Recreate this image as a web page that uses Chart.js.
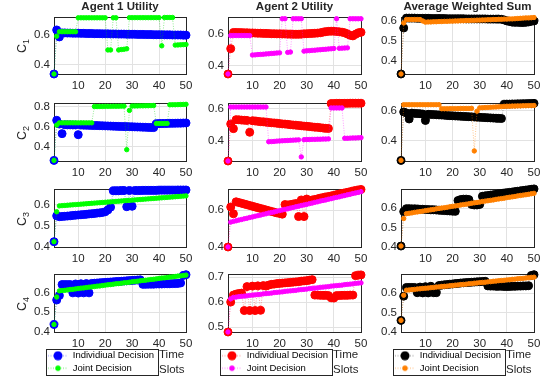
<!DOCTYPE html>
<html lang="en">
<head>
<meta charset="UTF-8">
<title>Utility per Channel</title>
<script src="https://cdn.jsdelivr.net/npm/chart.js"></script>
<style>
    body { margin: 0; width: 545px; height: 379px; position: relative; overflow: hidden; background: #fff;
           font-family: "Liberation Sans", Arial, sans-serif; color: #262626; }
    canvas { position: absolute; }
    .ttl { position: absolute; top: 0; font-weight: bold; font-size: 11.5px; line-height: 12px; text-align: center; }
    .ylab { position: absolute; transform: translate(-50%, -50%) rotate(-90deg); font-size: 12.5px; line-height: 1; white-space: nowrap; }
    .ylab sub { font-size: 0.72em; vertical-align: -0.35em; line-height: 0; }
    .xlab { position: absolute; font-size: 11.5px; line-height: 15px; }
</style>
</head>
<body>
<script>
// x axis: time slots
const slots = Array.from({ length: 50 }, (_, i) => i + 1);
const xTickValues = [10, 20, 30, 40, 50];
const columnTitles = ['Agent 1 Utility', 'Agent 2 Utility', 'Average Weighted Sum'];
const channelNames = ['1', '2', '3', '4'];
const legendNames = ['Individiual Decision', 'Joint Decision'];

// C1
const a1c1Ind = [0.335, 0.632, 0.585, 0.612, 0.612, 0.611, 0.611, 0.61, 0.61, 0.61, 0.609, 0.609, 0.608, 0.608, 0.608, 0.607, 0.607, 0.607, 0.606, 0.606, 0.606, 0.605, 0.605, 0.605, 0.604, 0.604, 0.604, 0.603, 0.603, 0.603, 0.603, 0.602, 0.602, 0.602, 0.601, 0.601, 0.601, 0.6, 0.6, 0.6, 0.6, 0.599, 0.599, 0.599, 0.598, 0.598, 0.598, 0.598, 0.597, 0.597];
const a1c1Joint = [0.335, 0.59, 0.62, 0.62, 0.62, 0.62, 0.62, 0.62, 0.62, 0.714, 0.714, 0.714, 0.714, 0.714, 0.714, 0.714, 0.714, 0.714, 0.714, 0.714, 0.497, 0.497, 0.714, 0.714, 0.497, 0.5, 0.502, 0.505, 0.715, 0.715, 0.715, 0.715, 0.715, 0.715, 0.715, 0.715, 0.715, 0.715, 0.715, 0.715, 0.525, 0.716, 0.716, 0.716, 0.716, 0.53, 0.531, 0.532, 0.533, 0.534];
const a2c1Ind = [0.345, 0.508, 0.612, 0.612, 0.611, 0.611, 0.61, 0.61, 0.609, 0.609, 0.608, 0.607, 0.607, 0.606, 0.606, 0.605, 0.604, 0.604, 0.603, 0.603, 0.602, 0.602, 0.601, 0.601, 0.6, 0.6, 0.6, 0.601, 0.603, 0.604, 0.605, 0.606, 0.607, 0.608, 0.61, 0.614, 0.617, 0.619, 0.62, 0.62, 0.618, 0.616, 0.614, 0.61, 0.602, 0.594, 0.59, 0.6, 0.61, 0.613];
const a2c1Joint = [0.345, 0.592, 0.592, 0.592, 0.592, 0.592, 0.592, 0.592, 0.592, 0.467, 0.468, 0.47, 0.471, 0.472, 0.474, 0.475, 0.477, 0.478, 0.48, 0.481, 0.70, 0.70, 0.484, 0.486, 0.70, 0.70, 0.70, 0.70, 0.492, 0.494, 0.495, 0.497, 0.498, 0.5, 0.501, 0.503, 0.504, 0.506, 0.507, 0.509, 0.70, 0.51, 0.511, 0.512, 0.513, 0.70, 0.70, 0.70, 0.70, 0.70];
const avgC1Ind = [0.337, 0.565, 0.614, 0.614, 0.614, 0.614, 0.613, 0.613, 0.613, 0.613, 0.613, 0.612, 0.612, 0.612, 0.612, 0.612, 0.612, 0.611, 0.611, 0.611, 0.611, 0.611, 0.611, 0.611, 0.61, 0.61, 0.61, 0.61, 0.61, 0.61, 0.61, 0.61, 0.609, 0.609, 0.609, 0.609, 0.609, 0.608, 0.605, 0.6, 0.597, 0.594, 0.593, 0.593, 0.592, 0.592, 0.593, 0.595, 0.598, 0.6];
const avgC1Joint = [0.337, 0.59, 0.607, 0.607, 0.607, 0.607, 0.607, 0.607, 0.6, 0.594, 0.595, 0.595, 0.596, 0.596, 0.597, 0.597, 0.598, 0.598, 0.599, 0.599, 0.6, 0.6, 0.601, 0.601, 0.602, 0.602, 0.603, 0.603, 0.604, 0.604, 0.605, 0.605, 0.606, 0.606, 0.607, 0.607, 0.608, 0.608, 0.609, 0.609, 0.61, 0.61, 0.611, 0.612, 0.613, 0.614, 0.615, 0.615, 0.616, 0.617];

// C2
const a1c2Ind = [0.266, 0.662, 0.625, 0.53, 0.618, 0.617, 0.617, 0.616, 0.616, 0.52, 0.615, 0.614, 0.613, 0.612, 0.611, 0.61, 0.61, 0.609, 0.608, 0.607, 0.606, 0.605, 0.604, 0.603, 0.602, 0.601, 0.6, 0.6, 0.599, 0.598, 0.597, 0.596, 0.595, 0.594, 0.593, 0.592, 0.591, 0.59, 0.628, 0.629, 0.63, 0.63, 0.631, 0.632, 0.632, 0.633, 0.634, 0.634, 0.635, 0.636];
const a1c2Joint = [0.266, 0.615, 0.637, 0.637, 0.637, 0.637, 0.637, 0.637, 0.637, 0.637, 0.637, 0.637, 0.637, 0.637, 0.637, 0.798, 0.798, 0.799, 0.799, 0.8, 0.8, 0.8, 0.801, 0.801, 0.801, 0.802, 0.802, 0.372, 0.76, 0.803, 0.804, 0.804, 0.805, 0.805, 0.806, 0.806, 0.807, 0.808, 0.631, 0.631, 0.631, 0.631, 0.631, 0.815, 0.816, 0.816, 0.817, 0.818, 0.819, 0.82];
const a2c2Ind = [0.27, 0.505, 0.475, 0.532, 0.531, 0.529, 0.528, 0.527, 0.452, 0.525, 0.523, 0.521, 0.519, 0.518, 0.516, 0.514, 0.512, 0.511, 0.509, 0.507, 0.505, 0.504, 0.502, 0.5, 0.498, 0.497, 0.495, 0.493, 0.491, 0.49, 0.488, 0.486, 0.484, 0.483, 0.481, 0.479, 0.477, 0.476, 0.634, 0.634, 0.635, 0.635, 0.635, 0.635, 0.635, 0.636, 0.636, 0.636, 0.636, 0.636];
const a2c2Joint = [0.27, 0.612, 0.612, 0.612, 0.612, 0.612, 0.612, 0.612, 0.612, 0.612, 0.612, 0.612, 0.612, 0.612, 0.612, 0.392, 0.393, 0.394, 0.396, 0.397, 0.398, 0.399, 0.4, 0.401, 0.402, 0.403, 0.404, 0.296, 0.405, 0.406, 0.406, 0.407, 0.407, 0.408, 0.408, 0.409, 0.409, 0.41, 0.606, 0.606, 0.606, 0.606, 0.606, 0.414, 0.414, 0.415, 0.416, 0.416, 0.417, 0.418];
const avgC2Ind = [0.267, 0.59, 0.583, 0.543, 0.582, 0.58, 0.579, 0.578, 0.576, 0.533, 0.574, 0.573, 0.572, 0.571, 0.57, 0.569, 0.568, 0.566, 0.565, 0.564, 0.563, 0.562, 0.561, 0.56, 0.559, 0.558, 0.557, 0.556, 0.555, 0.554, 0.553, 0.552, 0.551, 0.55, 0.549, 0.548, 0.547, 0.546, 0.641, 0.642, 0.642, 0.643, 0.643, 0.644, 0.644, 0.645, 0.645, 0.646, 0.646, 0.647];
const avgC2Joint = [0.267, 0.638, 0.638, 0.638, 0.638, 0.638, 0.638, 0.638, 0.638, 0.638, 0.638, 0.638, 0.638, 0.638, 0.638, 0.611, 0.611, 0.611, 0.612, 0.612, 0.612, 0.612, 0.613, 0.613, 0.613, 0.613, 0.614, 0.33, 0.595, 0.617, 0.618, 0.619, 0.62, 0.621, 0.622, 0.623, 0.624, 0.625, 0.627, 0.628, 0.628, 0.629, 0.629, 0.63, 0.63, 0.631, 0.631, 0.632, 0.632, 0.633];

// C3
const a1c3Ind = [0.425, 0.547, 0.543, 0.544, 0.545, 0.546, 0.547, 0.549, 0.55, 0.551, 0.552, 0.553, 0.554, 0.556, 0.557, 0.558, 0.56, 0.561, 0.563, 0.566, 0.575, 0.588, 0.665, 0.665, 0.665, 0.666, 0.666, 0.59, 0.666, 0.592, 0.666, 0.666, 0.666, 0.667, 0.667, 0.667, 0.667, 0.667, 0.667, 0.668, 0.668, 0.668, 0.668, 0.668, 0.668, 0.668, 0.669, 0.669, 0.669, 0.669];
const a1c3Joint = [0.425, 0.566, 0.594, 0.595, 0.596, 0.597, 0.598, 0.599, 0.6, 0.601, 0.602, 0.603, 0.604, 0.605, 0.606, 0.607, 0.608, 0.609, 0.61, 0.611, 0.612, 0.613, 0.614, 0.615, 0.616, 0.617, 0.618, 0.619, 0.62, 0.621, 0.622, 0.623, 0.624, 0.625, 0.626, 0.627, 0.628, 0.629, 0.63, 0.631, 0.632, 0.633, 0.634, 0.635, 0.636, 0.637, 0.638, 0.639, 0.64, 0.641];
const a2c3Ind = [0.4, 0.617, 0.58, 0.645, 0.641, 0.637, 0.633, 0.629, 0.625, 0.621, 0.617, 0.613, 0.609, 0.605, 0.601, 0.597, 0.593, 0.589, 0.585, 0.582, 0.578, 0.63, 0.628, 0.63, 0.633, 0.636, 0.565, 0.655, 0.565, 0.66, 0.652, 0.655, 0.658, 0.661, 0.665, 0.668, 0.671, 0.674, 0.677, 0.68, 0.684, 0.687, 0.69, 0.693, 0.696, 0.699, 0.703, 0.706, 0.709, 0.712];
const a2c3Joint = [0.4, 0.535, 0.539, 0.542, 0.546, 0.549, 0.553, 0.556, 0.56, 0.563, 0.567, 0.57, 0.573, 0.577, 0.58, 0.584, 0.587, 0.59, 0.594, 0.597, 0.601, 0.604, 0.607, 0.611, 0.614, 0.618, 0.621, 0.625, 0.628, 0.631, 0.635, 0.638, 0.642, 0.645, 0.649, 0.652, 0.655, 0.659, 0.662, 0.666, 0.669, 0.672, 0.676, 0.679, 0.683, 0.686, 0.69, 0.693, 0.696, 0.70];
const avgC3Ind = [0.405, 0.583, 0.598, 0.598, 0.597, 0.597, 0.596, 0.595, 0.595, 0.594, 0.593, 0.592, 0.592, 0.591, 0.59, 0.589, 0.588, 0.587, 0.586, 0.585, 0.584, 0.64, 0.645, 0.647, 0.647, 0.645, 0.62, 0.617, 0.617, 0.62, 0.662, 0.664, 0.666, 0.668, 0.67, 0.672, 0.674, 0.676, 0.678, 0.68, 0.682, 0.684, 0.686, 0.688, 0.69, 0.692, 0.694, 0.696, 0.698, 0.70];
const avgC3Joint = [0.405, 0.547, 0.572, 0.574, 0.576, 0.579, 0.581, 0.583, 0.585, 0.588, 0.59, 0.592, 0.594, 0.597, 0.599, 0.601, 0.603, 0.605, 0.608, 0.61, 0.612, 0.614, 0.617, 0.619, 0.621, 0.623, 0.626, 0.628, 0.63, 0.632, 0.635, 0.637, 0.639, 0.641, 0.643, 0.646, 0.648, 0.65, 0.652, 0.655, 0.657, 0.659, 0.661, 0.664, 0.666, 0.668, 0.67, 0.672, 0.675, 0.677];

// C4
const a1c4Ind = [0.438, 0.562, 0.585, 0.64, 0.64, 0.64, 0.64, 0.598, 0.643, 0.597, 0.644, 0.598, 0.645, 0.598, 0.646, 0.647, 0.648, 0.649, 0.65, 0.651, 0.652, 0.653, 0.654, 0.655, 0.656, 0.657, 0.658, 0.659, 0.66, 0.661, 0.662, 0.663, 0.664, 0.641, 0.641, 0.642, 0.642, 0.642, 0.643, 0.643, 0.643, 0.644, 0.644, 0.644, 0.645, 0.645, 0.646, 0.648, 0.686, 0.69];
const a1c4Joint = [0.438, 0.577, 0.608, 0.61, 0.611, 0.613, 0.615, 0.616, 0.618, 0.62, 0.622, 0.623, 0.625, 0.627, 0.628, 0.63, 0.632, 0.633, 0.635, 0.637, 0.639, 0.64, 0.642, 0.644, 0.645, 0.647, 0.649, 0.65, 0.652, 0.654, 0.656, 0.657, 0.659, 0.661, 0.662, 0.664, 0.666, 0.667, 0.669, 0.671, 0.673, 0.674, 0.676, 0.678, 0.679, 0.681, 0.683, 0.684, 0.686, 0.688];
const a2c4Ind = [0.48, 0.6, 0.628, 0.632, 0.634, 0.636, 0.566, 0.662, 0.566, 0.664, 0.566, 0.665, 0.567, 0.666, 0.664, 0.668, 0.671, 0.672, 0.674, 0.675, 0.676, 0.677, 0.678, 0.679, 0.68, 0.681, 0.682, 0.684, 0.685, 0.686, 0.688, 0.69, 0.628, 0.628, 0.627, 0.627, 0.627, 0.626, 0.617, 0.616, 0.626, 0.626, 0.627, 0.627, 0.627, 0.628, 0.628, 0.706, 0.708, 0.709];
const a2c4Joint = [0.48, 0.613, 0.619, 0.62, 0.622, 0.623, 0.624, 0.625, 0.627, 0.628, 0.629, 0.63, 0.631, 0.633, 0.634, 0.635, 0.636, 0.638, 0.639, 0.64, 0.641, 0.643, 0.644, 0.645, 0.646, 0.647, 0.649, 0.65, 0.651, 0.652, 0.654, 0.655, 0.656, 0.657, 0.659, 0.66, 0.661, 0.662, 0.664, 0.665, 0.666, 0.667, 0.668, 0.67, 0.671, 0.672, 0.673, 0.675, 0.676, 0.677];
const avgC4Ind = [0.46, 0.585, 0.63, 0.63, 0.63, 0.63, 0.603, 0.632, 0.602, 0.634, 0.602, 0.636, 0.603, 0.603, 0.64, 0.642, 0.644, 0.645, 0.647, 0.648, 0.65, 0.651, 0.653, 0.654, 0.655, 0.656, 0.657, 0.658, 0.659, 0.66, 0.661, 0.662, 0.638, 0.637, 0.637, 0.636, 0.636, 0.636, 0.635, 0.635, 0.635, 0.636, 0.636, 0.637, 0.637, 0.638, 0.638, 0.639, 0.692, 0.696];
const avgC4Joint = [0.46, 0.59, 0.616, 0.617, 0.619, 0.62, 0.622, 0.623, 0.625, 0.626, 0.627, 0.629, 0.63, 0.632, 0.633, 0.635, 0.636, 0.637, 0.639, 0.64, 0.642, 0.643, 0.645, 0.646, 0.647, 0.649, 0.65, 0.652, 0.653, 0.655, 0.656, 0.657, 0.659, 0.66, 0.662, 0.663, 0.665, 0.666, 0.667, 0.669, 0.67, 0.672, 0.673, 0.675, 0.676, 0.677, 0.679, 0.68, 0.682, 0.683];

const panelData = [
    [[a1c1Ind, a1c1Joint], [a2c1Ind, a2c1Joint], [avgC1Ind, avgC1Joint]],
    [[a1c2Ind, a1c2Joint], [a2c2Ind, a2c2Joint], [avgC2Ind, avgC2Joint]],
    [[a1c3Ind, a1c3Joint], [a2c3Ind, a2c3Joint], [avgC3Ind, avgC3Joint]],
    [[a1c4Ind, a1c4Joint], [a2c4Ind, a2c4Joint], [avgC4Ind, avgC4Joint]]
];
const yMin = [[0.335, 0.345, 0.337], [0.26, 0.27, 0.263], [0.4, 0.4, 0.4], [0.4, 0.48, 0.4]];
const yMax = [[0.72, 0.712, 0.62], [0.834, 0.638, 0.65], [0.674, 0.715, 0.70], [0.694, 0.713, 0.70]];
const yTicks = [
    [[0.4, 0.6], [0.4, 0.6], [0.4, 0.5, 0.6]],
    [[0.4, 0.6, 0.8], [0.4, 0.6], [0.4, 0.6]],
    [[0.4, 0.5, 0.6], [0.4, 0.6], [0.4, 0.5, 0.6]],
    [[0.4, 0.5, 0.6], [0.5, 0.6, 0.7], [0.4, 0.5, 0.6]]
];

// layout (pixel positions of the plot boxes)
const colLeft = [54, 228, 401];
const colRight = [186, 361, 534];
const rowTop = [14, 100, 186, 271];
const rowBottom = [74, 161, 247, 332];
const Y_W = 30, PAD_T = 8, PAD_R = 14, X_H = 18, X_H_LAST = 16, LEG_H = 35;

const markerColors = [['#0000ff', '#00ff00'], ['#ff0000', '#ff00ff'], ['#000000', '#ff8000']];
const dotColors = [
    ['rgba(0,0,255,0.45)', 'rgba(0,210,0,0.55)'],
    ['rgba(255,0,0,0.45)', 'rgba(255,0,255,0.5)'],
    ['rgba(0,0,0,0.45)', 'rgba(255,128,0,0.55)']
];
const markerRadius = [4, 2.2];

Chart.defaults.font.family = '"Liberation Sans", Arial, sans-serif';
Chart.defaults.color = '#262626';

function legendIcon(fill, dot, r) {
    const cv = document.createElement('canvas');
    cv.width = 20; cv.height = 10;
    const g = cv.getContext('2d');
    g.strokeStyle = dot; g.lineWidth = 1; g.setLineDash([1, 1.5]);
    g.beginPath(); g.moveTo(0, 5); g.lineTo(20, 5); g.stroke();
    g.setLineDash([]);
    g.fillStyle = fill;
    g.beginPath(); g.arc(10, 5, r, 0, Math.PI * 2); g.fill();
    return cv;
}

// matlab style box around the plot area
const axesBox = {
    id: 'axesBox',
    beforeDatasetsDraw(chart) {
        const { ctx, chartArea: a } = chart;
        ctx.save();
        ctx.strokeStyle = '#262626';
        ctx.lineWidth = 1;
        ctx.strokeRect(Math.round(a.left) + 0.5, Math.round(a.top) + 0.5, Math.round(a.width), Math.round(a.height));
        ctx.restore();
    }
};

// move the legend under the plot and frame it
const legendFrame = {
    id: 'legendFrame',
    afterLayout(chart) {
        const lg = chart.legend;
        if (!lg || !lg.options.display) return;
        const dx = chart.chartArea.left - 9 - lg.left;
        lg.left += dx;
        lg.right += dx;
    },
    afterDraw(chart) {
        const lg = chart.legend;
        if (!lg || !lg.options.display || !lg.legendHitBoxes.length) return;
        let l = Infinity, t = Infinity, r = -Infinity, b = -Infinity;
        lg.legendHitBoxes.forEach(h => {
            l = Math.min(l, h.left); t = Math.min(t, h.top);
            r = Math.max(r, h.left + h.width); b = Math.max(b, h.top + h.height);
        });
        const ctx = chart.ctx;
        ctx.save();
        ctx.strokeStyle = '#262626';
        ctx.lineWidth = 1;
        ctx.strokeRect(Math.round(l - 2) + 0.5, Math.round(t - 2) + 0.5, Math.round(r - l + 6), Math.round(b - t + 4));
        ctx.restore();
    }
};

function addPanel(r, c) {
    const last = r === 3;
    const plotW = colRight[c] - colLeft[c];
    const plotH = rowBottom[r] - rowTop[r];
    const xH = last ? X_H_LAST : X_H;
    const w = Y_W + plotW + PAD_R;
    const h = PAD_T + plotH + xH + (last ? LEG_H : 0);

    const canvas = document.createElement('canvas');
    canvas.width = w; canvas.height = h;
    canvas.style.left = (colLeft[c] - Y_W) + 'px';
    canvas.style.top = (rowTop[r] - PAD_T) + 'px';
    canvas.style.width = w + 'px';
    canvas.style.height = h + 'px';
    document.body.appendChild(canvas);

    const icons = [0, 1].map(k => legendIcon(markerColors[c][k], dotColors[c][k], markerRadius[k] + 0.5));

    const datasets = [0, 1].map(k => ({
        label: legendNames[k],
        data: panelData[r][c][k].map((v, i) => ({ x: slots[i], y: v })),
        order: k === 0 ? 2 : 1,
        borderColor: dotColors[c][k],
        borderWidth: 0.8,
        borderDash: [1, 1.5],
        backgroundColor: markerColors[c][k],
        pointBackgroundColor: markerColors[c][k],
        pointBorderColor: markerColors[c][k],
        pointBorderWidth: 1,
        pointRadius: markerRadius[k],
        pointHoverRadius: markerRadius[k],
        tension: 0,
        clip: false
    }));

    new Chart(canvas.getContext('2d'), {
        type: 'line',
        data: { datasets },
        options: {
            responsive: false,
            animation: false,
            devicePixelRatio: 1,
            events: [],
            layout: { padding: { top: PAD_T, right: PAD_R, left: 0, bottom: 0 } },
            scales: {
                x: {
                    type: 'linear',
                    min: 1,
                    max: 50,
                    afterBuildTicks: s => { s.ticks = xTickValues.map(v => ({ value: v })); },
                    afterFit: s => { s.height = xH; },
                    grid: { color: '#e2e2e2', drawTicks: false },
                    border: { display: false },
                    ticks: { padding: 5, maxRotation: 0, font: { size: 11.5 }, color: '#262626' }
                },
                y: {
                    min: yMin[r][c],
                    max: yMax[r][c],
                    afterBuildTicks: s => { s.ticks = yTicks[r][c].map(v => ({ value: v })); },
                    afterFit: s => { s.width = Y_W; },
                    grid: { color: '#e2e2e2', drawTicks: false },
                    border: { display: false },
                    ticks: { padding: 4, font: { size: 11.5 }, color: '#262626', callback: v => v.toFixed(1) }
                }
            },
            plugins: {
                tooltip: { enabled: false },
                legend: {
                    display: last,
                    position: 'bottom',
                    align: 'start',
                    labels: {
                        usePointStyle: true,
                        pointStyleWidth: 20,
                        padding: 3,
                        color: '#000',
                        font: { size: 9.5 },
                        sort: (a, b) => a.datasetIndex - b.datasetIndex,
                        generateLabels: chart => Chart.defaults.plugins.legend.labels.generateLabels(chart)
                            .map(item => { item.pointStyle = icons[item.datasetIndex]; return item; })
                    }
                }
            }
        },
        plugins: [axesBox, legendFrame]
    });
}

for (let r = 0; r < 4; r++) {
    for (let c = 0; c < 3; c++) addPanel(r, c);
}

// titles, channel labels and the x label
columnTitles.forEach((t, c) => {
    const d = document.createElement('div');
    d.className = 'ttl';
    d.style.left = colLeft[c] + 'px';
    d.style.width = (colRight[c] - colLeft[c]) + 'px';
    d.textContent = t;
    document.body.appendChild(d);
});
channelNames.forEach((n, r) => {
    const d = document.createElement('div');
    d.className = 'ylab';
    d.style.left = '22px';
    d.style.top = ((rowTop[r] + rowBottom[r]) / 2 + 2) + 'px';
    d.innerHTML = 'C<sub>' + n + '</sub>';
    document.body.appendChild(d);
});
colLeft.forEach(x => {
    const d = document.createElement('div');
    d.className = 'xlab';
    d.style.left = (x + 105) + 'px';
    d.style.top = '347px';
    d.innerHTML = 'Time<br>Slots';
    document.body.appendChild(d);
});
</script>
</body>
</html>
